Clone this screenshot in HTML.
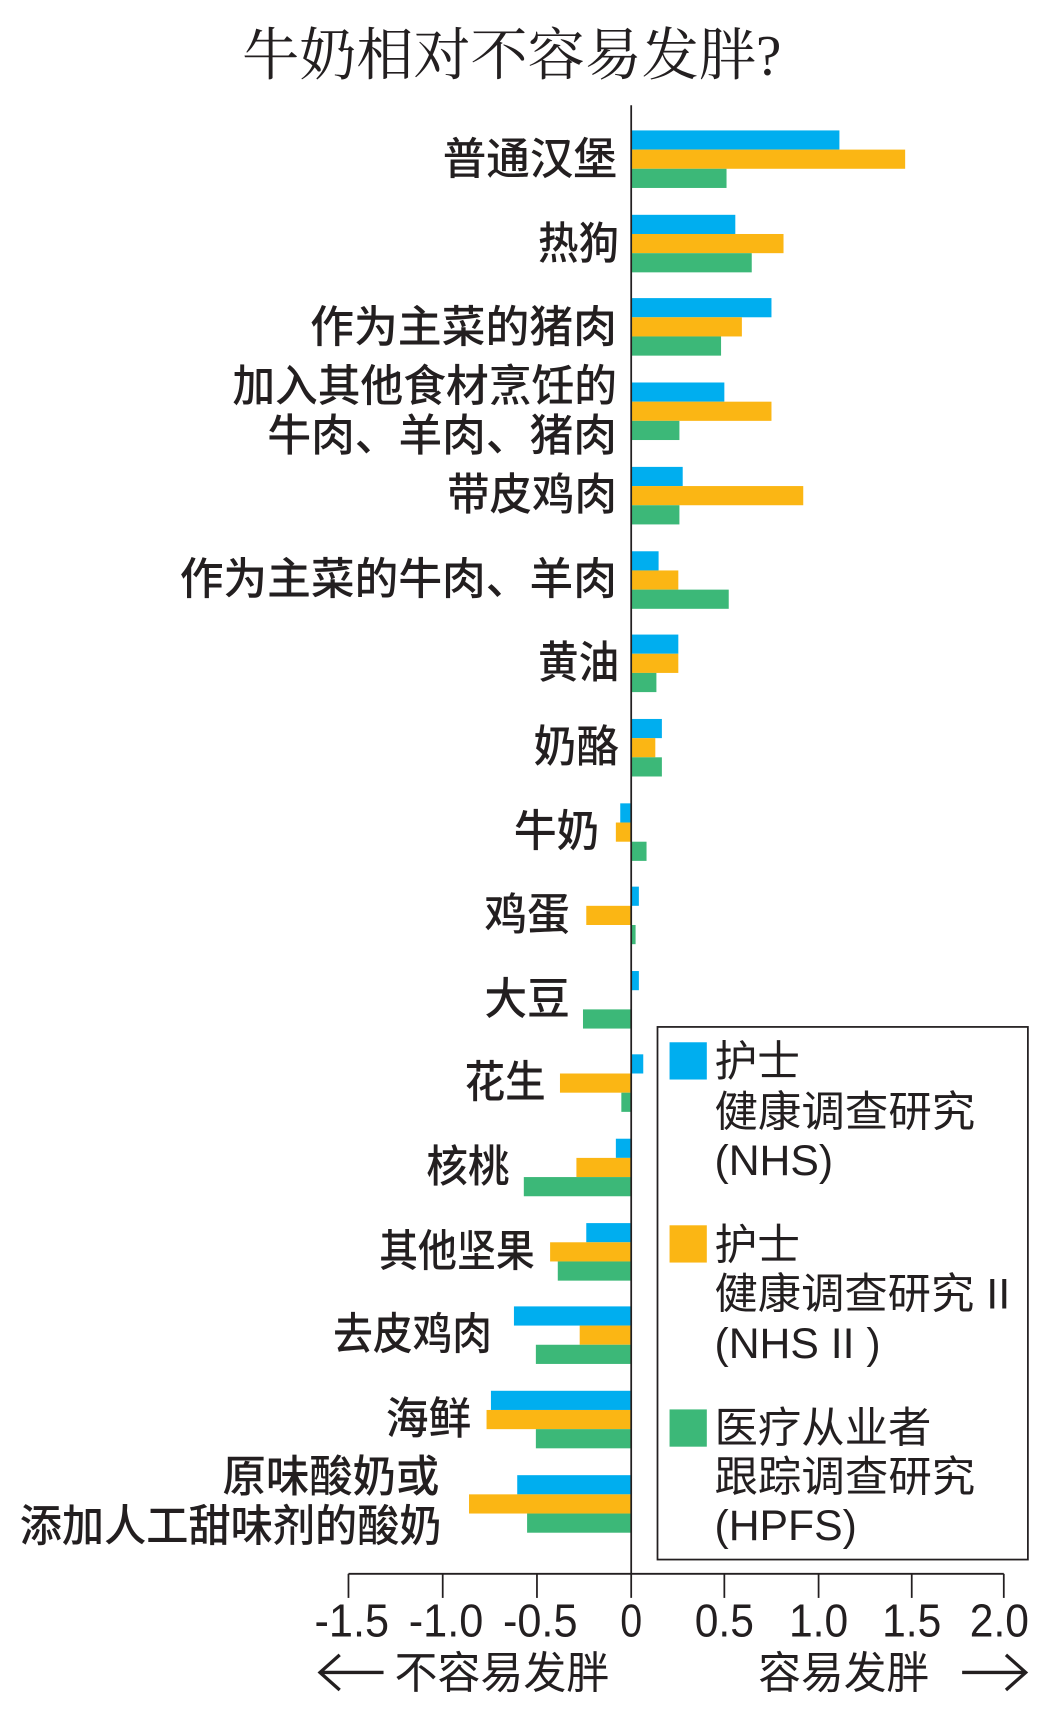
<!DOCTYPE html>
<html><head><meta charset="utf-8"><style>
html,body{margin:0;padding:0;background:#fff;}
svg{display:block;}
text{font-family:"Liberation Sans","Noto Sans CJK SC",sans-serif;fill:#231F20;}
.l{font-weight:500;}
</style></head><body>
<svg width="1052" height="1713" viewBox="0 0 960 1563" preserveAspectRatio="none" xmlns="http://www.w3.org/2000/svg">
<text x="467" y="68" text-anchor="middle" font-size="52" textLength="492" lengthAdjust="spacingAndGlyphs" style="font-family:'Liberation Serif','Noto Serif CJK SC',serif">牛奶相对不容易发胖?</text>
<g>
<rect x="576" y="119" width="190" height="17.5" fill="#00AEEF"/><rect x="576" y="136.5" width="250" height="17.5" fill="#FBB614"/><rect x="576" y="154" width="87" height="17.5" fill="#3CB878"/>
<rect x="576" y="196" width="95" height="17.5" fill="#00AEEF"/><rect x="576" y="213.5" width="139" height="17.5" fill="#FBB614"/><rect x="576" y="231" width="110" height="17.5" fill="#3CB878"/>
<rect x="576" y="272" width="128" height="17.5" fill="#00AEEF"/><rect x="576" y="289.5" width="101" height="17.5" fill="#FBB614"/><rect x="576" y="307" width="82" height="17.5" fill="#3CB878"/>
<rect x="576" y="349" width="85" height="17.5" fill="#00AEEF"/><rect x="576" y="366.5" width="128" height="17.5" fill="#FBB614"/><rect x="576" y="384" width="44" height="17.5" fill="#3CB878"/>
<rect x="576" y="426" width="47" height="17.5" fill="#00AEEF"/><rect x="576" y="443.5" width="157" height="17.5" fill="#FBB614"/><rect x="576" y="461" width="44" height="17.5" fill="#3CB878"/>
<rect x="576" y="503" width="25" height="17.5" fill="#00AEEF"/><rect x="576" y="520.5" width="43" height="17.5" fill="#FBB614"/><rect x="576" y="538" width="89" height="17.5" fill="#3CB878"/>
<rect x="576" y="579" width="43" height="17.5" fill="#00AEEF"/><rect x="576" y="596.5" width="43" height="17.5" fill="#FBB614"/><rect x="576" y="614" width="23" height="17.5" fill="#3CB878"/>
<rect x="576" y="656" width="28" height="17.5" fill="#00AEEF"/><rect x="576" y="673.5" width="22" height="17.5" fill="#FBB614"/><rect x="576" y="691" width="28" height="17.5" fill="#3CB878"/>
<rect x="566" y="733" width="10" height="17.5" fill="#00AEEF"/><rect x="562" y="750.5" width="14" height="17.5" fill="#FBB614"/><rect x="576" y="768" width="14" height="17.5" fill="#3CB878"/>
<rect x="576" y="809" width="7" height="17.5" fill="#00AEEF"/><rect x="535" y="826.5" width="41" height="17.5" fill="#FBB614"/><rect x="576" y="844" width="4" height="17.5" fill="#3CB878"/>
<rect x="576" y="886" width="7" height="17.5" fill="#00AEEF"/><rect x="532" y="921" width="44" height="17.5" fill="#3CB878"/>
<rect x="576" y="962" width="11" height="17.5" fill="#00AEEF"/><rect x="511" y="979.5" width="65" height="17.5" fill="#FBB614"/><rect x="567" y="997" width="9" height="17.5" fill="#3CB878"/>
<rect x="562" y="1039" width="14" height="17.5" fill="#00AEEF"/><rect x="526" y="1056.5" width="50" height="17.5" fill="#FBB614"/><rect x="478" y="1074" width="98" height="17.5" fill="#3CB878"/>
<rect x="535" y="1116" width="41" height="17.5" fill="#00AEEF"/><rect x="502" y="1133.5" width="74" height="17.5" fill="#FBB614"/><rect x="509" y="1151" width="67" height="17.5" fill="#3CB878"/>
<rect x="469" y="1192" width="107" height="17.5" fill="#00AEEF"/><rect x="529" y="1209.5" width="47" height="17.5" fill="#FBB614"/><rect x="489" y="1227" width="87" height="17.5" fill="#3CB878"/>
<rect x="448" y="1269" width="128" height="17.5" fill="#00AEEF"/><rect x="444" y="1286.5" width="132" height="17.5" fill="#FBB614"/><rect x="489" y="1304" width="87" height="17.5" fill="#3CB878"/>
<rect x="472" y="1346" width="104" height="17.5" fill="#00AEEF"/><rect x="428" y="1363.5" width="148" height="17.5" fill="#FBB614"/><rect x="481" y="1381" width="95" height="17.5" fill="#3CB878"/>
</g>
<line x1="576" y1="96" x2="576" y2="1458" stroke="#231F20" stroke-width="1.6"/>
<g font-size="40" text-anchor="end" class="l">
<text x="563" y="159" textLength="159" lengthAdjust="spacingAndGlyphs">普通汉堡</text>
<text x="565" y="236" textLength="74" lengthAdjust="spacingAndGlyphs">热狗</text>
<text x="563" y="312" textLength="280" lengthAdjust="spacingAndGlyphs">作为主菜的猪肉</text>
<text x="563" y="366" textLength="351" lengthAdjust="spacingAndGlyphs">加入其他食材烹饪的</text>
<text x="563" y="411" textLength="319" lengthAdjust="spacingAndGlyphs">牛肉、羊肉、猪肉</text>
<text x="563" y="465" textLength="155" lengthAdjust="spacingAndGlyphs">带皮鸡肉</text>
<text x="563" y="542" textLength="399" lengthAdjust="spacingAndGlyphs">作为主菜的牛肉、羊肉</text>
<text x="565" y="618" textLength="74" lengthAdjust="spacingAndGlyphs">黄油</text>
<text x="565" y="695" textLength="78" lengthAdjust="spacingAndGlyphs">奶酪</text>
<text x="547" y="772" textLength="78" lengthAdjust="spacingAndGlyphs">牛奶</text>
<text x="520" y="848" textLength="78" lengthAdjust="spacingAndGlyphs">鸡蛋</text>
<text x="520" y="925" textLength="78" lengthAdjust="spacingAndGlyphs">大豆</text>
<text x="498" y="1001" textLength="74" lengthAdjust="spacingAndGlyphs">花生</text>
<text x="465" y="1078" textLength="76" lengthAdjust="spacingAndGlyphs">核桃</text>
<text x="488" y="1155" textLength="142" lengthAdjust="spacingAndGlyphs">其他坚果</text>
<text x="449" y="1231" textLength="145" lengthAdjust="spacingAndGlyphs">去皮鸡肉</text>
<text x="430" y="1308" textLength="78" lengthAdjust="spacingAndGlyphs">海鲜</text>
<text x="401" y="1361" textLength="198" lengthAdjust="spacingAndGlyphs">原味酸奶或</text>
<text x="403" y="1406" textLength="385" lengthAdjust="spacingAndGlyphs">添加人工甜味剂的酸奶</text>
</g>
<rect x="600" y="937" width="338" height="486" fill="none" stroke="#231F20" stroke-width="1.6"/>
<rect x="611" y="951" width="34" height="34" fill="#00AEEF"/>
<rect x="611" y="1118" width="34" height="34" fill="#FBB614"/>
<rect x="611" y="1286" width="34" height="34" fill="#3CB878"/>
<g font-size="39">
<text x="652" y="982">护士</text>
<text x="652" y="1028" textLength="238" lengthAdjust="spacingAndGlyphs">健康调查研究</text>
<text x="652" y="1072">(NHS)</text>
<text x="652" y="1149">护士</text>
<text x="652" y="1194" textLength="270" lengthAdjust="spacingAndGlyphs">健康调查研究 II</text>
<text x="652" y="1239">(NHS II  )</text>
<text x="652" y="1316" textLength="198" lengthAdjust="spacingAndGlyphs">医疗从业者</text>
<text x="652" y="1361" textLength="238" lengthAdjust="spacingAndGlyphs">跟踪调查研究</text>
<text x="652" y="1405">(HPFS)</text>
</g>
<g stroke="#231F20" stroke-width="1.6">
<line x1="318" y1="1436" x2="916" y2="1436"/>
<line x1="318" y1="1436" x2="318" y2="1458"/><line x1="404" y1="1436" x2="404" y2="1458"/><line x1="490" y1="1436" x2="490" y2="1458"/>
<line x1="661" y1="1436" x2="661" y2="1458"/><line x1="747" y1="1436" x2="747" y2="1458"/><line x1="832" y1="1436" x2="832" y2="1458"/><line x1="916" y1="1436" x2="916" y2="1458"/>
</g>
<g font-size="42" text-anchor="middle">
<text x="321" y="1493" textLength="68" lengthAdjust="spacingAndGlyphs">-1.5</text>
<text x="407" y="1493" textLength="68" lengthAdjust="spacingAndGlyphs">-1.0</text>
<text x="493" y="1493" textLength="68" lengthAdjust="spacingAndGlyphs">-0.5</text>
<text x="576" y="1493" textLength="20" lengthAdjust="spacingAndGlyphs">0</text>
<text x="661" y="1493" textLength="54" lengthAdjust="spacingAndGlyphs">0.5</text>
<text x="747" y="1493" textLength="54" lengthAdjust="spacingAndGlyphs">1.0</text>
<text x="832" y="1493" textLength="54" lengthAdjust="spacingAndGlyphs">1.5</text>
<text x="912" y="1493" textLength="54" lengthAdjust="spacingAndGlyphs">2.0</text>
</g>
<g font-size="40">
<text x="360" y="1540" textLength="196" lengthAdjust="spacingAndGlyphs">不容易发胖</text>
<text x="692" y="1540" textLength="156" lengthAdjust="spacingAndGlyphs">容易发胖</text>
</g>
<g stroke="#231F20" stroke-width="3" fill="none">
<path d="M350 1526 H292 M310 1510 L292 1526 L310 1542"/>
<path d="M878 1526 H936 M918 1510 L936 1526 L918 1542"/>
</g>
</svg>
</body></html>
